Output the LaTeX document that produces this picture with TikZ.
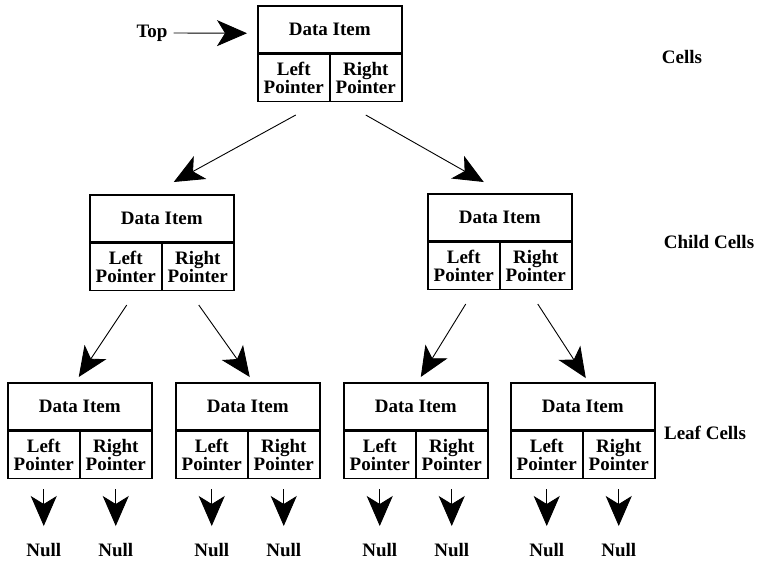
\documentclass[tikz,border=0pt]{standalone}
\usepackage{fontspec}
\setmainfont{Liberation Serif}
\usepackage{tikz}
\usetikzlibrary{arrows,arrows.meta,shapes,positioning}

\tikzset{
	dataitem/.style={draw, line width=1.5pt, minimum width=144pt, minimum height=47pt, inner sep=0pt, font=\bfseries\fontsize{19}{18}\selectfont},
	pointer/.style={draw, line width=1.5pt, minimum width=72pt, minimum height=47pt, inner sep=0pt, align=center, font=\bfseries\fontsize{19}{18}\selectfont},
	label/.style={inner sep=0pt, font=\bfseries\fontsize{19}{18}\selectfont},
	link/.style={line width=0.9pt, -{Stealth[length=30pt,width=26pt,inset=8pt]}},
}

\newcommand{\treecell}[3]{%
	\node[dataitem, anchor=north west] (#1-d) at (#2,#3) {Data Item};
	\node[pointer, anchor=north west] (#1-l) at (#1-d.south west) {Left\\Pointer};
	\node[pointer, anchor=north east] (#1-r) at (#1-d.south east) {Right\\Pointer};
}

\begin{document}
\begin{tikzpicture}[x=1pt, y=-1pt]
	\useasboundingbox (0,0) rectangle (757,560);

	\treecell{top}{257}{5}
	\treecell{cl}{89}{194}
	\treecell{cr}{427}{193}
	\treecell{la}{7}{382}
	\treecell{lb}{175}{382}
	\treecell{lc}{343}{382}
	\treecell{ld}{510}{382}

	\node[label] (toplabel) at (152,33) {Top};
	\node[label] (cells) at (682,57) {Cells};
	\node[label] (childcells) at (709,242) {Child Cells};
	\node[label] (leafcells) at (705,433) {Leaf Cells};

	\draw[link] (toplabel.east) ++(6pt,0) coordinate (topstart) (topstart) -- ([xshift=-10pt,yshift=-4pt]top-d.west);

	\draw[link] ([xshift=2pt,yshift=-13pt]top-l.south) -- ([xshift=12pt,yshift=12pt]cl-d.north);
	\draw[link] ([yshift=-13pt]top-r.south) -- ([xshift=-16pt,yshift=11pt]cr-d.north);

	\draw[link] ([xshift=1pt,yshift=-14pt]cl-l.south) -- ([xshift=-1pt,yshift=5pt]la-d.north);
	\draw[link] ([xshift=1pt,yshift=-14pt]cl-r.south) -- ([xshift=2pt,yshift=5pt]lb-d.north);
	\draw[link] ([xshift=2pt,yshift=-14pt]cr-l.south) -- ([xshift=5pt,yshift=5pt]lc-d.north);
	\draw[link] ([xshift=2pt,yshift=-14pt]cr-r.south) -- ([xshift=3pt,yshift=4pt]ld-d.north);

	\foreach \c in {la,lb,lc,ld}{
		\foreach \p in {l,r}{
			\node[label, below=64pt of \c-\p] (\c-\p-null) {Null};
			\draw[link] ([yshift=-10pt]\c-\p.south) -- ([yshift=17pt]\c-\p-null.north);
		}
	}
\end{tikzpicture}
\end{document}
